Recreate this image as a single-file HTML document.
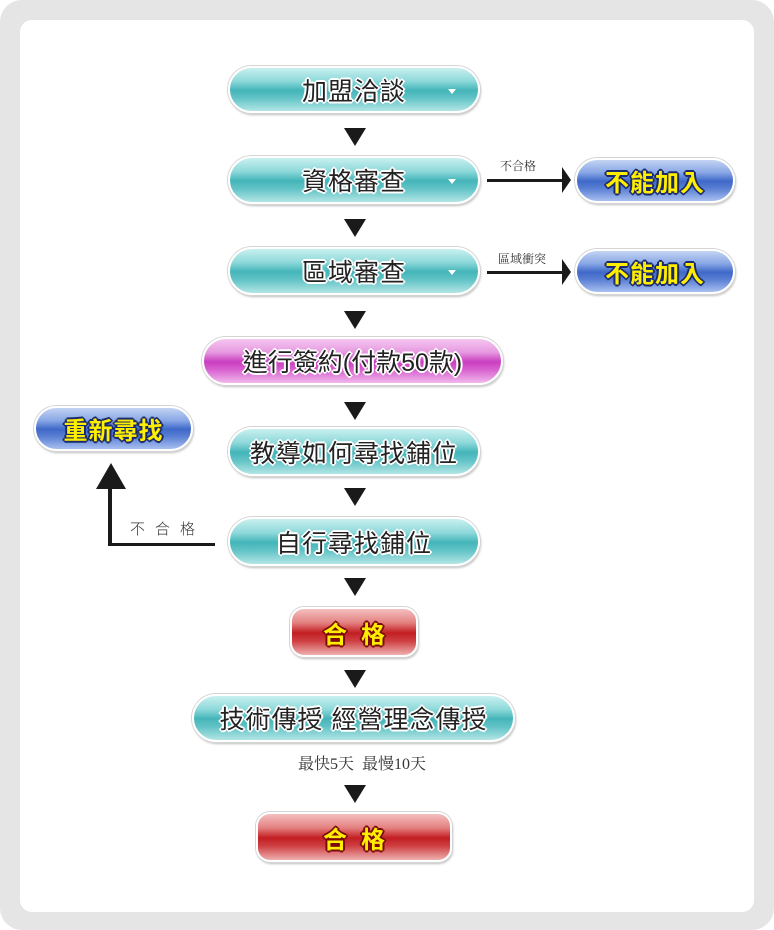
<!DOCTYPE html>
<html><head><meta charset="utf-8"><style>
*{margin:0;padding:0;box-sizing:border-box}
body{width:774px;height:930px;background:#fff;position:relative;overflow:hidden;font-family:"Liberation Sans","Noto Sans CJK TC",sans-serif}
.outer{position:absolute;left:0;top:0;width:774px;height:930px;background:#e5e5e5;border-radius:22px}
.inner{position:absolute;left:20px;top:20px;width:734px;height:892px;background:#fff;border-radius:12px}
.b{position:absolute;border-radius:999px;border:2px solid #fff;box-shadow:0 0 0 1px #d4d4d4,1px 2px 2px rgba(0,0,0,.25);display:flex;align-items:center;justify-content:center;font-weight:bold;font-size:24px;letter-spacing:1px}
.t{background:linear-gradient(#c9f0f0 0%,#8fd9da 30%,#44b5b9 52%,#62c3c6 70%,#b3e6e6 100%);color:#222;font-weight:normal;font-size:25px;text-shadow:-2px 0 #fff,2px 0 #fff,0 -2px #fff,0 2px #fff,-1px -1px #fff,1px 1px #fff,-1px 1px #fff,1px -1px #fff}
.m{background:linear-gradient(#f6c6f0 0%,#e69ae0 30%,#c93fc0 52%,#d862d0 70%,#f1b8ec 100%);color:#222;font-weight:normal;font-size:25px;text-shadow:-2px 0 #fff,2px 0 #fff,0 -2px #fff,0 2px #fff,-1px -1px #fff,1px 1px #fff,-1px 1px #fff,1px -1px #fff}
.u{background:linear-gradient(#c3d3f3 0%,#8aa8e6 30%,#3f68c8 52%,#5b80d4 70%,#a8bff0 100%);color:#ffee00;text-shadow:-2px 0 #1a2a6a,2px 0 #1a2a6a,0 -2px #1a2a6a,0 2px #1a2a6a,-1px -1px #1a2a6a,1px 1px #1a2a6a,-1px 1px #1a2a6a,1px -1px #1a2a6a}
.r{background:linear-gradient(#f4c0c0 0%,#e48080 30%,#c21e22 52%,#cf4144 70%,#eeb0b0 100%);color:#ffee00;text-shadow:-2px 0 #7a0a0a,2px 0 #7a0a0a,0 -2px #7a0a0a,0 2px #7a0a0a,-1px -1px #7a0a0a,1px 1px #7a0a0a,-1px 1px #7a0a0a,1px -1px #7a0a0a;border-radius:14px}
.dd{position:absolute;right:22px;top:50%;margin-top:-1px;width:0;height:0;border-left:4px solid transparent;border-right:4px solid transparent;border-top:5px solid #fff}
.dn{position:absolute;width:0;height:0;border-left:11px solid transparent;border-right:11px solid transparent;border-top:18px solid #1a1a1a}
.ln{position:absolute;background:#1a1a1a}
.ar{position:absolute;width:0;height:0;border-top:13px solid transparent;border-bottom:13px solid transparent;border-left:9px solid #1a1a1a}
.lb{position:absolute;font-family:"Liberation Serif","Noto Serif CJK SC",serif;font-size:12px;color:#333}
</style></head><body>
<div class="outer"></div><div class="inner"></div>

<div class="b t" style="left:228px;top:66px;width:252px;height:47px">加盟洽談<span class="dd"></span></div>
<div class="dn" style="left:344px;top:128px"></div>
<div class="b t" style="left:228px;top:156px;width:252px;height:48px">資格審查<span class="dd"></span></div>
<div class="dn" style="left:344px;top:219px"></div>
<div class="b t" style="left:228px;top:247px;width:252px;height:48px">區域審查<span class="dd"></span></div>
<div class="dn" style="left:344px;top:311px"></div>

<div class="ln" style="left:487px;top:179px;width:76px;height:3px"></div>
<div class="ar" style="left:562px;top:167px"></div>
<div class="lb" style="left:500px;top:157px">不合格</div>
<div class="b u" style="left:575px;top:158px;width:160px;height:45px">不能加入</div>

<div class="ln" style="left:487px;top:271px;width:76px;height:3px"></div>
<div class="ar" style="left:562px;top:259px"></div>
<div class="lb" style="left:498px;top:250px">區域衝突</div>
<div class="b u" style="left:575px;top:249px;width:160px;height:45px">不能加入</div>

<div class="b m" style="left:202px;top:337px;width:301px;height:48px;letter-spacing:0">進行簽約(付款50款)</div>
<div class="dn" style="left:344px;top:402px"></div>
<div class="b t" style="left:228px;top:427px;width:252px;height:49px">教導如何尋找鋪位</div>
<div class="dn" style="left:344px;top:488px"></div>
<div class="b t" style="left:228px;top:517px;width:252px;height:49px">自行尋找鋪位</div>
<div class="dn" style="left:344px;top:578px"></div>

<div class="b u" style="left:34px;top:406px;width:159px;height:45px">重新尋找</div>
<div class="ln" style="left:108px;top:486px;width:4px;height:60px"></div>
<div class="ln" style="left:108px;top:543px;width:107px;height:3px"></div>
<div style="position:absolute;left:96px;top:463px;width:0;height:0;border-left:15px solid transparent;border-right:15px solid transparent;border-bottom:26px solid #1a1a1a"></div>
<div class="lb" style="left:130px;top:518px;font-size:15px;letter-spacing:10px;font-family:'Liberation Sans','Noto Sans CJK TC',sans-serif;font-weight:300">不合格</div>

<div class="b r" style="left:290px;top:607px;width:128px;height:50px;letter-spacing:14px;padding-left:14px">合格</div>
<div class="dn" style="left:344px;top:670px"></div>
<div class="b t" style="left:192px;top:694px;width:323px;height:48px">技術傳授&nbsp;經營理念傳授</div>
<div class="lb" style="left:298px;top:751px;font-size:16px">最快5天&nbsp; 最慢10天</div>
<div class="dn" style="left:344px;top:785px"></div>
<div class="b r" style="left:256px;top:812px;width:196px;height:50px;letter-spacing:14px;padding-left:14px">合格</div>
</body></html>
